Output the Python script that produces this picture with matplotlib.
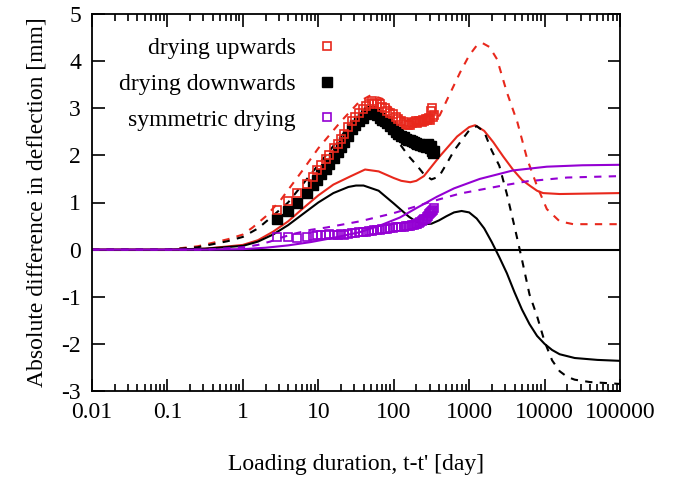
import numpy as np
import matplotlib
matplotlib.use('Agg')
from matplotlib import pyplot as plt
from matplotlib.ticker import LogLocator, NullFormatter, NullLocator

# measured data: loading duration [day] and deflection difference [mm]
t_meas = [2.8, 4.0, 5.2, 7.0, 8.5, 9.5, 11, 12.5, 14, 16, 18, 20, 22, 25, 28, 31, 35, 39,
          43, 47, 51, 55, 60, 65, 70, 76, 82, 90, 98, 106, 115, 125, 135, 145, 155, 165,
          175, 185, 195, 205, 215, 225, 235, 245, 255, 265, 275, 285, 295, 305, 315, 325,
          335, 345]
up_meas = [0.85, 1.03, 1.2, 1.4, 1.55, 1.68, 1.8, 1.92, 2.0, 2.15, 2.25, 2.35, 2.45, 2.6,
           2.72, 2.82, 2.9, 2.98, 3.05, 3.1, 3.15, 3.12, 3.08, 3.1, 3.02, 3.0, 2.95, 2.9,
           2.88, 2.82, 2.78, 2.72, 2.7, 2.66, 2.65, 2.64, 2.68, 2.7, 2.72, 2.68, 2.72, 2.74,
           2.7, 2.76, 2.74, 2.78, 2.75, 2.78, 2.8, 2.76, 2.95, 3.0, 2.82, 2.85]
down_meas = [0.65, 0.82, 1.0, 1.2, 1.38, 1.48, 1.6, 1.72, 1.82, 1.95, 2.08, 2.18, 2.28, 2.42,
             2.55, 2.65, 2.72, 2.8, 2.88, 2.92, 2.95, 2.9, 2.85, 2.8, 2.75, 2.72, 2.68, 2.62,
             2.55, 2.5, 2.45, 2.42, 2.38, 2.35, 2.33, 2.32, 2.3, 2.28, 2.27, 2.25, 2.25, 2.22,
             2.22, 2.2, 2.2, 2.18, 2.22, 2.25, 2.2, 2.15, 2.2, 2.1, 2.05, 2.1]
sym_meas = [0.27, 0.26, 0.24, 0.26, 0.28, 0.3, 0.32, 0.3, 0.33, 0.31, 0.32, 0.33, 0.32, 0.34,
            0.35, 0.35, 0.37, 0.37, 0.38, 0.4, 0.4, 0.41, 0.42, 0.42, 0.43, 0.44, 0.44, 0.45,
            0.46, 0.47, 0.48, 0.48, 0.49, 0.5, 0.5, 0.51, 0.52, 0.53, 0.54, 0.55, 0.57, 0.58,
            0.6, 0.62, 0.64, 0.66, 0.7, 0.72, 0.75, 0.78, 0.8, 0.82, 0.85, 0.88]

# model curves, x given as log10(t-t')
up_solid_logt = [-2, -1, -0.5, 0, 0.2, 0.4, 0.6, 0.8, 1.0, 1.2, 1.42, 1.62, 1.8, 2.0, 2.1,
                 2.22, 2.3, 2.4, 2.61, 2.84, 3.0, 3.08, 3.2, 3.32, 3.45, 3.58, 3.7, 3.81,
                 3.9, 3.98, 4.2, 5.0]
up_solid = [0, 0, 0.02, 0.1, 0.2, 0.38, 0.6, 0.88, 1.15, 1.38, 1.55, 1.7, 1.66, 1.52, 1.46,
            1.43, 1.46, 1.56, 1.98, 2.4, 2.6, 2.64, 2.52, 2.28, 1.98, 1.7, 1.48, 1.35, 1.25,
            1.2, 1.18, 1.2]

up_dash_logt = [-2, -1, -0.6, -0.2, 0, 0.13, 0.3, 0.5, 0.8, 1.0, 1.3, 1.55, 1.7, 1.85, 2.0,
                2.2, 2.35, 2.5, 2.61, 2.71, 2.88, 3.0, 3.1, 3.18, 3.27, 3.37, 3.5, 3.64,
                3.77, 3.9, 4.03, 4.2, 4.38, 5.0]
up_dash = [0, 0, 0.07, 0.22, 0.32, 0.47, 0.7, 1.05, 1.7, 2.15, 2.72, 3.15, 3.28, 3.2, 2.95,
           2.7, 2.65, 2.72, 2.85, 3.19, 3.76, 4.12, 4.33, 4.38, 4.3, 4.04, 3.34, 2.7, 1.92,
           1.35, 0.86, 0.6, 0.54, 0.54]

down_solid_logt = [-2, -1, -0.5, 0, 0.2, 0.4, 0.6, 0.8, 1.0, 1.2, 1.4, 1.5, 1.6, 1.8, 2.0,
                   2.1, 2.2, 2.3, 2.4, 2.5, 2.6, 2.7, 2.8, 2.9, 3.0, 3.1, 3.2, 3.3, 3.4, 3.5,
                   3.6, 3.7, 3.8, 3.9, 4.0, 4.1, 4.2, 4.4, 4.7, 5.0]
down_solid = [0, 0, 0.02, 0.08, 0.17, 0.32, 0.52, 0.76, 1.0, 1.2, 1.33, 1.36, 1.36, 1.25,
              0.98, 0.84, 0.7, 0.59, 0.54, 0.55, 0.62, 0.71, 0.79, 0.82, 0.79, 0.66, 0.45,
              0.16, -0.16, -0.5, -0.9, -1.27, -1.58, -1.83, -2.0, -2.13, -2.22, -2.3, -2.34,
              -2.36]

down_dash_logt = [-2, -1, -0.6, -0.2, 0, 0.2, 0.4, 0.6, 0.85, 1.13, 1.4, 1.6, 1.7, 1.8, 1.9,
                  2.0, 2.1, 2.2, 2.3, 2.4, 2.5, 2.6, 2.7, 2.8, 2.9, 3.0, 3.1, 3.2, 3.3, 3.4,
                  3.5, 3.6, 3.7, 3.8, 3.9, 4.0, 4.1, 4.2, 4.3, 4.4, 4.6, 5.0]
down_dash = [0, 0, 0.05, 0.18, 0.27, 0.45, 0.72, 1.0, 1.5, 2.06, 2.6, 2.88, 2.93, 2.85, 2.6,
             2.38, 2.2, 1.98, 1.8, 1.6, 1.49, 1.55, 1.82, 2.1, 2.32, 2.53, 2.62, 2.5, 2.1,
             1.78, 1.18, 0.5, -0.21, -0.95, -1.41, -1.95, -2.35, -2.58, -2.7, -2.76, -2.81,
             -2.85]

sym_solid_logt = [-2, -0.5, 0, 0.3, 0.6, 0.9, 1.2, 1.55, 1.8, 2.08, 2.3, 2.57, 2.8, 3.14,
                  3.58, 4.03, 4.5, 5.0]
sym_solid = [0, 0, 0.01, 0.04, 0.09, 0.16, 0.25, 0.37, 0.5, 0.68, 0.88, 1.12, 1.3, 1.5,
             1.68, 1.76, 1.79, 1.8]

sym_dash_logt = [-2, -0.5, 0, 0.2, 0.36, 0.5, 0.66, 0.9, 1.11, 1.55, 1.99, 2.3, 2.44, 2.61,
                 2.88, 3.41, 3.77, 4.3, 5.0]
sym_dash = [0, 0, 0.05, 0.1, 0.17, 0.25, 0.33, 0.42, 0.47, 0.6, 0.77, 0.92, 0.99, 1.07,
            1.19, 1.35, 1.45, 1.53, 1.56]

xtick_vals = [0.01, 0.1, 1, 10, 100, 1000, 10000, 100000]
xtick_labels = ['0.01', '0.1', '1', '10', '100', '1000', '10000', '100000']
ytick_vals = [-3, -2, -1, 0, 1, 2, 3, 4, 5]

RED = '#e8281c'
PURPLE = '#9400d3'

plt.rcParams['font.family'] = ['Liberation Serif', 'DejaVu Serif']
plt.rcParams['font.size'] = 17
plt.rcParams['axes.unicode_minus'] = False

fig = plt.figure(figsize=(6.76, 4.96), dpi=100)
ax = fig.add_axes([92 / 676, 1 - 391 / 496, 528 / 676, 377 / 496])

def lt(v):
    return 10 ** np.asarray(v, dtype=float)

lw = 1.5
ax.axhline(0, color='black', lw=1.5, zorder=1)
ax.plot(lt(up_solid_logt), up_solid, color=RED, lw=lw)
ax.plot(lt(up_dash_logt), up_dash, color=RED, lw=lw, dashes=(3.5, 3.5))
ax.plot(lt(down_solid_logt), down_solid, color='black', lw=lw)
ax.plot(lt(down_dash_logt), down_dash, color='black', lw=lw, dashes=(3.5, 3.5))
ax.plot(lt(sym_solid_logt), sym_solid, color=PURPLE, lw=lw)
ax.plot(lt(sym_dash_logt), sym_dash, color=PURPLE, lw=lw, dashes=(3.5, 3.5))

ax.plot(t_meas, down_meas, 's', color='black', ms=6.5, label='drying downwards', zorder=3)
ax.plot(t_meas, up_meas, 's', mfc='none', mec=RED, mew=1.2, ms=6, label='drying upwards', zorder=4)
ax.plot(t_meas, sym_meas, 's', mfc='none', mec=PURPLE, mew=1.2, ms=6, label='symmetric drying', zorder=4)

ax.set_xscale('log')
ax.set_xlim(0.01, 100000)
ax.set_ylim(-3, 5)
ax.set_xticks(xtick_vals)
ax.set_xticklabels(xtick_labels)
ax.xaxis.set_minor_locator(LogLocator(base=10, subs=np.arange(2, 10), numticks=20))
ax.xaxis.set_minor_formatter(NullFormatter())
ax.set_yticks(ytick_vals)
ax.yaxis.set_minor_locator(NullLocator())
ax.tick_params(which='both', direction='in', top=True, right=True, width=1.2)
ax.tick_params(which='major', length=9, pad=8)
ax.tick_params(which='minor', length=5)
for s in ax.spines.values():
    s.set_linewidth(1.3)

ax.set_xlabel("Loading duration, t-t' [day]", labelpad=22)
ax.set_ylabel('Absolute difference in deflection [mm]', labelpad=10)

h, l = ax.get_legend_handles_labels()
order = [1, 0, 2]
ax.legend([h[i] for i in order], [l[i] for i in order], loc='upper left',
          bbox_to_anchor=(0.025, 0.975), frameon=False, markerfirst=False,
          handlelength=1.0, handletextpad=0.8, labelspacing=0.6, numpoints=1,
          borderaxespad=0.2)

fig.savefig('out.png', dpi=100)
